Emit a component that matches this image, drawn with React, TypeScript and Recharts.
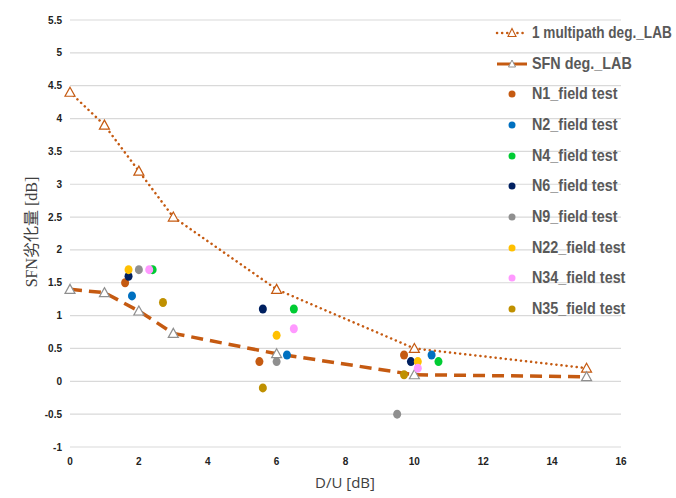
import {
  ComposedChart,
  Line,
  Scatter,
  XAxis,
  YAxis,
  CartesianGrid,
} from "recharts";

// lab curves: D/U [dB] vs degradation [dB]
const labX = [0, 1, 2, 3, 6, 10, 15];
const multipathLab = [4.4, 3.9, 3.2, 2.5, 1.4, 0.5, 0.2];
const sfnLab = [1.4, 1.35, 1.07, 0.73, 0.42, 0.1, 0.07];

// field test points: [D/U, degradation]
const n1 = [[1.6, 1.5], [5.5, 0.3], [9.7, 0.4]];
const n2 = [[1.8, 1.3], [6.3, 0.4], [10.5, 0.4]];
const n4 = [[2.4, 1.7], [6.5, 1.1], [10.7, 0.3]];
const n6 = [[1.7, 1.6], [5.6, 1.1], [9.9, 0.3]];
const n9 = [[2.0, 1.7], [6.0, 0.3], [9.5, -0.5]];
const n22 = [[1.7, 1.7], [6.0, 0.7], [10.1, 0.3]];
const n34 = [[2.3, 1.7], [6.5, 0.8], [10.1, 0.2]];
const n35 = [[2.7, 1.2], [5.6, -0.1], [9.7, 0.1]];

const xTicks = [0, 2, 4, 6, 8, 10, 12, 14, 16];
const yTicks = [-1, -0.5, 0, 0.5, 1, 1.5, 2, 2.5, 3, 3.5, 4, 4.5, 5, 5.5];

const ORANGE = "#C55A11";

const fieldSeries = [
  { name: "N1_field test", color: "#C55A11", pts: n1 },
  { name: "N2_field test", color: "#0070C0", pts: n2 },
  { name: "N4_field test", color: "#00CC33", pts: n4 },
  { name: "N6_field test", color: "#002060", pts: n6 },
  { name: "N9_field test", color: "#8F8F8F", pts: n9 },
  { name: "N22_field test", color: "#FFC000", pts: n22 },
  { name: "N34_field test", color: "#FF99FF", pts: n34 },
  { name: "N35_field test", color: "#BF9000", pts: n35 },
];

const toRows = (ys: number[]) => labX.map((x, i) => ({ x, y: ys[i] }));
const toPts = (pts: number[][]) => pts.map(([x, y]) => ({ x, y }));

const triangle = (stroke: string) => (props: any) => {
  const { cx, cy } = props;
  if (cx == null || cy == null) return null;
  return (
    <path
      key={`t-${cx}-${cy}`}
      d={`M${cx},${cy - 5} L${cx + 5},${cy + 4} L${cx - 5},${cy + 4} Z`}
      fill="#fff"
      stroke={stroke}
      strokeWidth={1.2}
    />
  );
};

const dotShape = (color: string) => (props: any) => (
  <ellipse cx={props.cx} cy={props.cy} rx={4} ry={4.5} fill={color} />
);

// Calibri-ish: bold, tall, squeezed horizontally
const legendFont = {
  fontFamily: "'Liberation Sans', Arial, sans-serif",
  fontWeight: 700,
  fontSize: 17,
  color: "#595959",
  whiteSpace: "nowrap" as const,
  display: "inline-block",
  transform: "scaleX(0.845)",
  transformOrigin: "left center",
  marginLeft: 2,
};

function LegendBox() {
  const rowH = 30.7;
  return (
    <div style={{ position: "absolute", left: 494, top: 33 - rowH / 2 }}>
      <div style={{ display: "flex", alignItems: "center", height: rowH }}>
        <svg width={36} height={12}>
          <line x1={3} y1={6} x2={33} y2={6} stroke={ORANGE} strokeWidth={2.5}
            strokeDasharray="0.1 5" strokeLinecap="round" />
          <path d="M18,1.5 L22,9.5 L14,9.5 Z" fill="#fff" stroke={ORANGE} strokeWidth={1.1} />
        </svg>
        <span style={{ ...legendFont, transform: "scaleX(0.8)" }}>1 multipath deg._LAB</span>
      </div>
      <div style={{ display: "flex", alignItems: "center", height: rowH }}>
        <svg width={36} height={12}>
          <line x1={3} y1={6} x2={33} y2={6} stroke={ORANGE} strokeWidth={3} />
          <path d="M18,2 L21.5,9 L14.5,9 Z" fill="#fff" stroke="#8F8F8F" strokeWidth={1} />
        </svg>
        <span style={legendFont}>SFN deg._LAB</span>
      </div>
      {fieldSeries.map((s) => (
        <div key={s.name} style={{ display: "flex", alignItems: "center", height: rowH }}>
          <svg width={36} height={12}>
            <circle cx={18} cy={6} r={3.5} fill={s.color} />
          </svg>
          <span style={legendFont}>{s.name}</span>
        </div>
      ))}
    </div>
  );
}

export default function App() {
  const tick = { fontSize: 10, fontWeight: 700, fill: "#222", fontFamily: "'Liberation Sans', Arial, sans-serif" };
  return (
    <div style={{ position: "absolute", left: 0, top: 0, width: 676, height: 498, background: "#fff", overflow: "hidden" }}>
      <ComposedChart
        width={676}
        height={498}
        margin={{ top: 20, right: 55, bottom: 21, left: 8 }}
      >
        <CartesianGrid vertical={false} stroke="#D9D9D9" strokeWidth={1.2} />
        <XAxis
          type="number"
          dataKey="x"
          domain={[0, 16]}
          ticks={xTicks}
          axisLine={false}
          tickLine={false}
          tickMargin={5}
          height={30}
          tick={tick}
          allowDuplicatedCategory={false}
        />
        <YAxis
          type="number"
          dataKey="y"
          domain={[-1, 5.5]}
          ticks={yTicks}
          axisLine={false}
          tickLine={false}
          width={62}
          tick={tick}
        />
        <Line
          data={toRows(multipathLab)}
          dataKey="y"
          type="linear"
          stroke={ORANGE}
          strokeWidth={2.5}
          strokeDasharray="0.1 5"
          strokeLinecap="round"
          dot={triangle(ORANGE)}
          activeDot={false}
          isAnimationActive={false}
        />
        <Line
          data={toRows(sfnLab)}
          dataKey="y"
          type="linear"
          stroke={ORANGE}
          strokeWidth={3.5}
          strokeDasharray="12 7"
          dot={triangle("#8F8F8F")}
          activeDot={false}
          isAnimationActive={false}
        />
        {fieldSeries.map((s) => (
          <Scatter
            key={s.name}
            name={s.name}
            data={toPts(s.pts)}
            fill={s.color}
            shape={dotShape(s.color)}
            isAnimationActive={false}
          />
        ))}
      </ComposedChart>
      <div
        style={{
          position: "absolute",
          left: 345,
          top: 482,
          transform: "translate(-50%, -50%)",
          fontFamily: "'Open Sans', 'Liberation Sans', sans-serif",
          fontSize: 15,
          color: "#404040",
          whiteSpace: "nowrap",
        }}
      >
        D/U [dB]
      </div>
      <div
        style={{
          position: "absolute",
          left: 30,
          top: 232,
          transform: "translate(-50%, -50%) rotate(-90deg)",
          fontFamily: "'Liberation Serif', 'Noto Sans CJK JP', serif",
          fontSize: 16,
          color: "#404040",
          whiteSpace: "nowrap",
        }}
      >
        SFN劣化量 [dB]
      </div>
      <LegendBox />
    </div>
  );
}
